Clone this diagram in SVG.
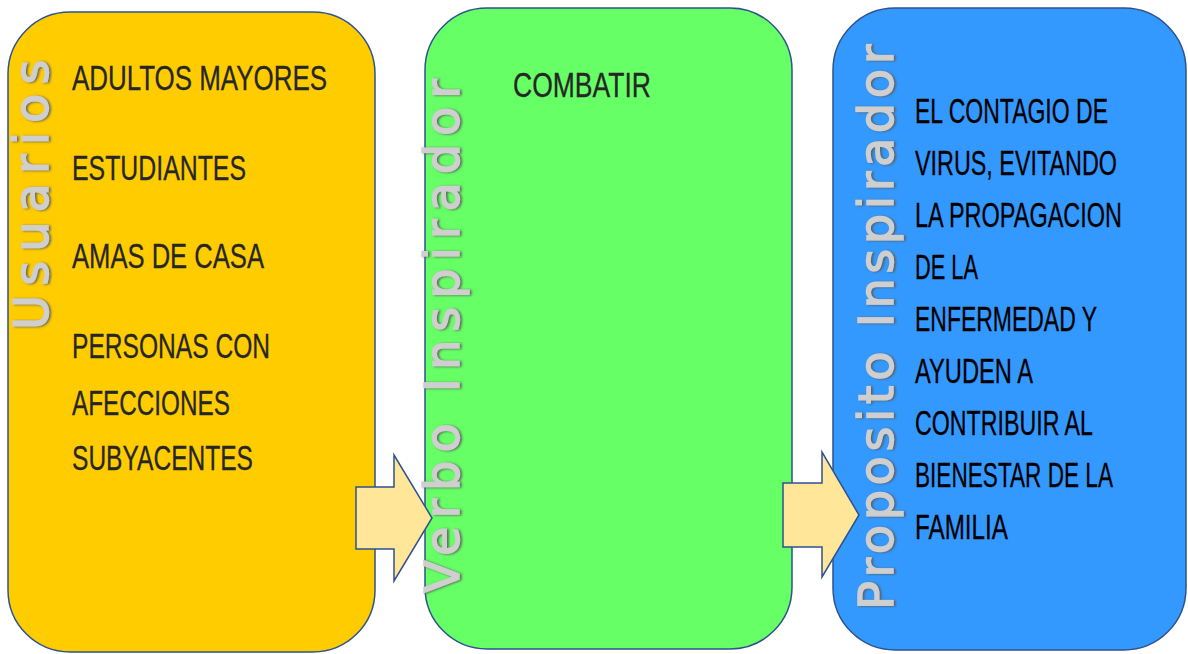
<svg xmlns="http://www.w3.org/2000/svg" width="1188" height="654" viewBox="0 0 1188 654">
  <defs>
    <style>
      .box { stroke: #2F528F; stroke-width: 1.5; }
      .item { font-family: "Liberation Sans", Arial, sans-serif; font-size: 35px; fill: #262626; stroke: #262626; stroke-width: 0.3; }
      .item-dark { fill: #000000; stroke: #000000; }
      .title { font-family: "DejaVu Sans", Verdana, sans-serif; font-size: 48px; fill: #CFCFCF; stroke: #CFCFCF; stroke-width: 1.3; filter: url(#emboss); }
      .arrow { fill: #FFE699; stroke: #2F528F; stroke-width: 1.5; stroke-linejoin: miter; }
    </style>
    <filter id="emboss" x="-10%" y="-20%" width="120%" height="150%">
      <feDropShadow dx="-0.5" dy="1.8" stdDeviation="0.8" flood-color="#5A5A5A" flood-opacity="0.9"/>
    </filter>
  </defs>

  <rect width="1188" height="654" fill="#FFFFFF"/>

  <!-- Users column -->
  <g id="node-usuarios">
    <rect class="box" x="8" y="12" width="367" height="640" rx="62" ry="62" fill="#FFCC00"/>
    <text class="item" x="72" y="90" textLength="255" lengthAdjust="spacingAndGlyphs">ADULTOS MAYORES</text>
    <text class="item" x="72" y="180" textLength="174" lengthAdjust="spacingAndGlyphs">ESTUDIANTES</text>
    <text class="item" x="72" y="268" textLength="192" lengthAdjust="spacingAndGlyphs">AMAS DE CASA</text>
    <text class="item" x="72" y="358" textLength="198" lengthAdjust="spacingAndGlyphs">PERSONAS CON</text>
    <text class="item" x="72" y="415" textLength="158" lengthAdjust="spacingAndGlyphs">AFECCIONES</text>
    <text class="item" x="72" y="470" textLength="181" lengthAdjust="spacingAndGlyphs">SUBYACENTES</text>
  </g>

  <!-- Verb column -->
  <g id="node-verbo">
    <rect class="box" x="425" y="8" width="367" height="641" rx="62" ry="62" fill="#66FF66"/>
    <text class="item" x="513" y="97" textLength="138" lengthAdjust="spacingAndGlyphs">COMBATIR</text>
  </g>

  <!-- Purpose column -->
  <g id="node-proposito">
    <rect class="box" x="833" y="8" width="353" height="642" rx="62" ry="62" fill="#3399FF"/>
    <g class="item item-dark">
      <text x="915" y="123" textLength="193" lengthAdjust="spacingAndGlyphs">EL CONTAGIO DE</text>
      <text x="915" y="175" textLength="202" lengthAdjust="spacingAndGlyphs">VIRUS, EVITANDO</text>
      <text x="915" y="227" textLength="207" lengthAdjust="spacingAndGlyphs">LA PROPAGACION</text>
      <text x="915" y="279" textLength="63" lengthAdjust="spacingAndGlyphs">DE LA</text>
      <text x="915" y="331" textLength="182" lengthAdjust="spacingAndGlyphs">ENFERMEDAD Y</text>
      <text x="915" y="383" textLength="118" lengthAdjust="spacingAndGlyphs">AYUDEN A</text>
      <text x="915" y="435" textLength="178" lengthAdjust="spacingAndGlyphs">CONTRIBUIR AL</text>
      <text x="915" y="487" textLength="198" lengthAdjust="spacingAndGlyphs">BIENESTAR DE LA</text>
      <text x="915" y="539" textLength="93" lengthAdjust="spacingAndGlyphs">FAMILIA</text>
    </g>
  </g>

  <!-- Block arrows between columns -->
  <g id="connectors">
    <polygon class="arrow" points="356,487 394,487 394,455 432,518 394,581 394,549 356,549"/>
    <polygon class="arrow" points="783,483 822,483 822,452 859,515 822,577 822,547 783,547"/>
  </g>

  <!-- Vertical column headings -->
  <g id="titles">
    <g id="title-usuarios">
      <text class="title" transform="translate(48,330) rotate(-90)" letter-spacing="9">Usuarios</text>
    </g>
    <g id="title-verbo">
      <text class="title" transform="translate(459,593) rotate(-90)" letter-spacing="7.9">Verbo Inspirador</text>
    </g>
    <g id="title-proposito">
      <text class="title" transform="translate(893,610) rotate(-90)" letter-spacing="4.5">Proposito Inspirador</text>
    </g>
  </g>
</svg>
